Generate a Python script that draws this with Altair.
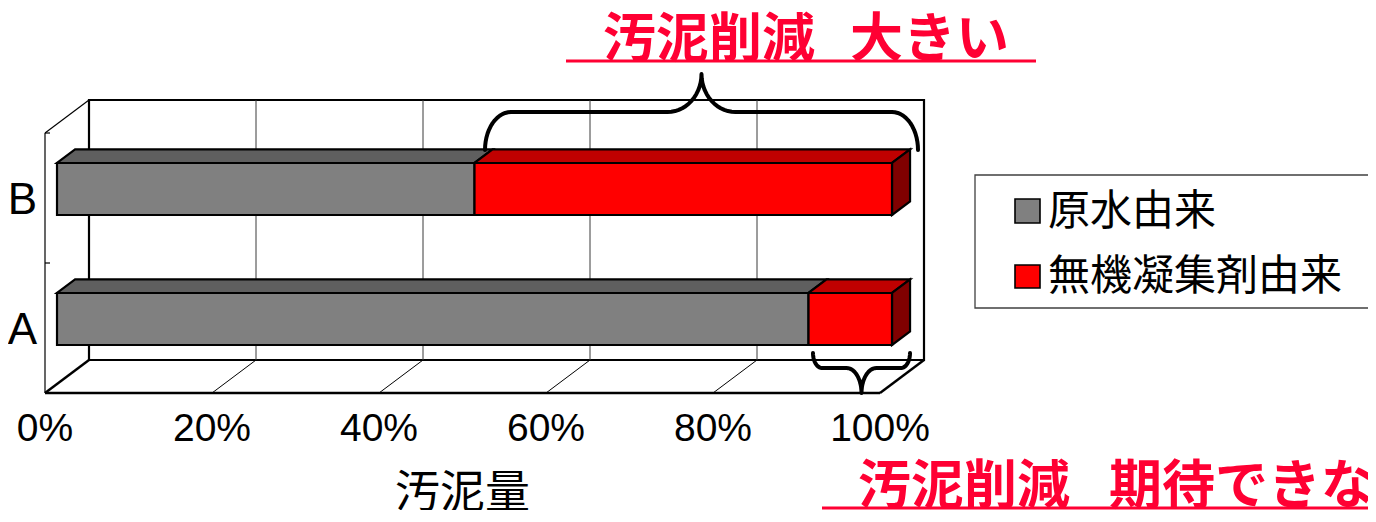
import math
import altair as alt
import pandas as pd

# ---------------- data ----------------
categories = ["B", "A"]
series_names = ["原水由来", "無機凝集剤由来"]
raw_share = [50, 90]        # 原水由来 (%)
coag_share = [50, 10]       # 無機凝集剤由来 (%)
tick_values = [0, 20, 40, 60, 80, 100]
tick_labels = ["0%", "20%", "40%", "60%", "80%", "100%"]
axis_title = "汚泥量"
note_top = ["汚泥削減", "大きい"]
note_bottom = ["汚泥削減", "期待できない"]

# ---------------- style ----------------
front_colors = ["#808080", "#ff0000"]
top_colors = ["#5f5f5f", "#c00000"]
side_colors = ["#4a4a4a", "#800000"]
RED_NOTE = "#ff0033"
JP = "Noto Sans CJK JP"
LATIN = "Liberation Sans, Arial, sans-serif"

W, H = 1360, 502
X0, PPP = 37.0, 8.35            # pixel of 0% on the front plane, pixels per percent
XDOM = [-X0 / PPP, (W - X0) / PPP]
DX = 44.0 / PPP                 # depth offset (percent units)
DY = -33.0                      # depth offset (pixel units)
FT, FB = 125.0, 385.0           # front plane top / bottom
D0, DD = 0.273, 0.41            # bar depth start / thickness
HALF = 26.0                     # half bar height


def pct(px):
    return (px - X0) / PPP


xs = alt.Scale(domain=XDOM, nice=False, zero=False)
ys = alt.Scale(domain=[0, H], nice=False, zero=False, reverse=True)


def X(f):
    return alt.X(f, type="quantitative", scale=xs, axis=None)


def Y(f):
    return alt.Y(f, type="quantitative", scale=ys, axis=None)


band = (FB - FT) / len(categories)
centers = [FT + band * (i + 0.5) for i in range(len(categories))]

# ---------------- frame ----------------
wall = pd.DataFrame([{"x": DX, "x2": 100 + DX, "y": FT + DY, "y2": FB + DY}])
wall_layer = alt.Chart(wall).mark_rect(fill="white", stroke="black", strokeWidth=2.2).encode(
    x=X("x"), x2="x2", y=Y("y"), y2="y2")

grid = pd.DataFrame([{"x": t + DX, "y": FT + DY, "y2": FB + DY} for t in tick_values[1:-1]])
grid_layer = alt.Chart(grid).mark_rule(color="#3a3a3a", strokeWidth=1).encode(
    x=X("x"), y=Y("y"), y2="y2")

lines = []
for t in tick_values:
    edge = t in (tick_values[0], tick_values[-1])
    lines.append({"x": t, "y": FB, "x2": t + DX, "y2": FB + DY, "w": 2.4 if edge else 1.0})
lines.append({"x": tick_values[0], "y": FB, "x2": tick_values[-1], "y2": FB, "w": 2.6})
lines.append({"x": 0, "y": FT, "x2": 0, "y2": FB, "w": 1.2})
lines.append({"x": 0, "y": FT, "x2": DX, "y2": FT + DY, "w": 1.2})
for yy in [FT, FT + band]:
    lines.append({"x": 0, "y": yy, "x2": 5 / PPP, "y2": yy, "w": 1.2})
frame_lines = pd.DataFrame(lines)
frame_layer = alt.Chart(frame_lines).mark_rule(color="black").encode(
    x=X("x"), x2="x2", y=Y("y"), y2="y2", strokeWidth=alt.StrokeWidth("w:Q", scale=None))

# ---------------- bars ----------------
front_rows, top_rows, side_rows = [], [], []
for i, cat in enumerate(categories):
    vals = [raw_share[i], coag_share[i]]
    yc = centers[i]
    ytop = yc + D0 * DY - HALF
    ybot = yc + D0 * DY + HALF
    start = 0.0
    for s, v in enumerate(vals):
        p0, p1 = start, start + v
        fid = f"{cat}-{s}"
        front_rows.append({"x": p0 + D0 * DX, "x2": p1 + D0 * DX, "y": ytop, "y2": ybot,
                           "fill": front_colors[s]})
        top_rows.append({"face": fid, "y": ytop, "x": p0 + D0 * DX, "x2": p1 + D0 * DX,
                         "fill": top_colors[s]})
        top_rows.append({"face": fid, "y": ytop + DD * DY, "x": p0 + (D0 + DD) * DX,
                         "x2": p1 + (D0 + DD) * DX, "fill": top_colors[s]})
        if s == len(vals) - 1:
            side_rows.append({"face": fid, "x": p1 + D0 * DX, "y": ytop, "y2": ybot,
                              "fill": side_colors[s]})
            side_rows.append({"face": fid, "x": p1 + (D0 + DD) * DX, "y": ytop + DD * DY,
                              "y2": ybot + DD * DY, "fill": side_colors[s]})
        start = p1

top_layer = alt.Chart(pd.DataFrame(top_rows)).mark_area(
    orient="horizontal", stroke="black", strokeWidth=2.2, opacity=1, strokeJoin="miter").encode(
    y=Y("y"), x=X("x"), x2="x2", detail="face:N", color=alt.Color("fill:N", scale=None))
side_layer = alt.Chart(pd.DataFrame(side_rows)).mark_area(
    orient="vertical", stroke="black", strokeWidth=2.2, opacity=1, strokeJoin="miter").encode(
    x=X("x"), y=Y("y"), y2="y2", detail="face:N", color=alt.Color("fill:N", scale=None))
front_layer = alt.Chart(pd.DataFrame(front_rows)).mark_rect(
    stroke="black", strokeWidth=2.2).encode(
    x=X("x"), x2="x2", y=Y("y"), y2="y2", color=alt.Color("fill:N", scale=None))


# ---------------- braces ----------------
def brace(name, xl, xr, y_end, y_bar, y_tip, r_end, r_tip, n=14):
    xm = (xl + xr) / 2
    left = []
    for k in range(n + 1):
        t = k / n * math.pi / 2
        left.append((xl + r_end * (1 - math.cos(t)), y_end + (y_bar - y_end) * math.sin(t)))
    for k in range(n + 1):
        t = k / n * math.pi / 2
        left.append((xm - r_tip + r_tip * math.sin(t), y_tip + (y_bar - y_tip) * math.cos(t)))
    right = [(2 * xm - px, py) for (px, py) in reversed(left)]
    pts = left + right[1:]
    return [{"b": name, "o": j, "x": pct(px), "y": py} for j, (px, py) in enumerate(pts)]


brace_rows = brace("top", 477, 910, 142, 104, 66, 26, 34) + \
    brace("bottom", 805, 902, 345, 360, 385, 9, 15)
brace_layer = alt.Chart(pd.DataFrame(brace_rows)).mark_line(
    color="black", strokeWidth=4, strokeCap="round", strokeJoin="round").encode(
    x=X("x"), y=Y("y"), order="o:Q", detail="b:N")

# ---------------- texts ----------------
tick_df = pd.DataFrame({"x": tick_values, "y": [433] * len(tick_values), "t": tick_labels})
tick_layer = alt.Chart(tick_df).mark_text(
    font=LATIN, fontSize=39, align="center", baseline="alphabetic", color="black").encode(
    x=X("x"), y=Y("y"), text="t:N")

cat_df = pd.DataFrame({"x": [pct(29)] * len(categories), "y": [c + 16 for c in centers],
                       "t": categories})
cat_layer = alt.Chart(cat_df).mark_text(
    font=LATIN, fontSize=44, align="right", baseline="alphabetic", color="black").encode(
    x=X("x"), y=Y("y"), text="t:N")

title_df = pd.DataFrame({"x": [50], "y": [500], "t": [axis_title]})
title_layer = alt.Chart(title_df).mark_text(
    font=JP, fontSize=45, align="center", baseline="alphabetic", color="black").encode(
    x=X("x"), y=Y("y"), text="t:N")

note_df = pd.DataFrame({
    "x": [pct(595), pct(842), pct(850), pct(1101)],
    "y": [49, 49, 496, 496],
    "t": [note_top[0], note_top[1], note_bottom[0], note_bottom[1]],
})
note_layer = alt.Chart(note_df).mark_text(
    font=JP, fontSize=53, fontWeight="bold", align="left", baseline="alphabetic",
    color=RED_NOTE).encode(x=X("x"), y=Y("y"), text="t:N")

underline_df = pd.DataFrame({"x": [pct(558), pct(814)], "x2": [pct(1028), pct(1420)],
                             "y": [53, 500]})
underline_layer = alt.Chart(underline_df).mark_rule(color=RED_NOTE, strokeWidth=3).encode(
    x=X("x"), x2="x2", y=Y("y"))

# ---------------- legend ----------------
legend_box = pd.DataFrame([{"x": pct(967), "x2": pct(1420), "y": 167, "y2": 300}])
legend_box_layer = alt.Chart(legend_box).mark_rect(
    fill="white", stroke="#404040", strokeWidth=1.3).encode(
    x=X("x"), x2="x2", y=Y("y"), y2="y2")

sw_df = pd.DataFrame({"x": [pct(1007)] * 2, "x2": [pct(1032)] * 2, "y": [191, 257],
                      "y2": [215, 280], "fill": front_colors})
sw_layer = alt.Chart(sw_df).mark_rect(stroke="black", strokeWidth=1.6).encode(
    x=X("x"), x2="x2", y=Y("y"), y2="y2", color=alt.Color("fill:N", scale=None))

leg_df = pd.DataFrame({"x": [pct(1040)] * 2, "y": [217, 282], "t": series_names})
leg_layer = alt.Chart(leg_df).mark_text(
    font=JP, fontSize=42, align="left", baseline="alphabetic", color="black").encode(
    x=X("x"), y=Y("y"), text="t:N")

chart = alt.layer(
    wall_layer, grid_layer, frame_layer,
    top_layer, side_layer, front_layer,
    brace_layer,
    tick_layer, cat_layer, title_layer,
    underline_layer, note_layer,
    legend_box_layer, sw_layer, leg_layer,
).properties(
    width=W, height=H, padding=0, autosize="none", background="white"
).configure_view(stroke=None)

chart.save("out.html", embed_options={"renderer": "svg", "actions": False})
